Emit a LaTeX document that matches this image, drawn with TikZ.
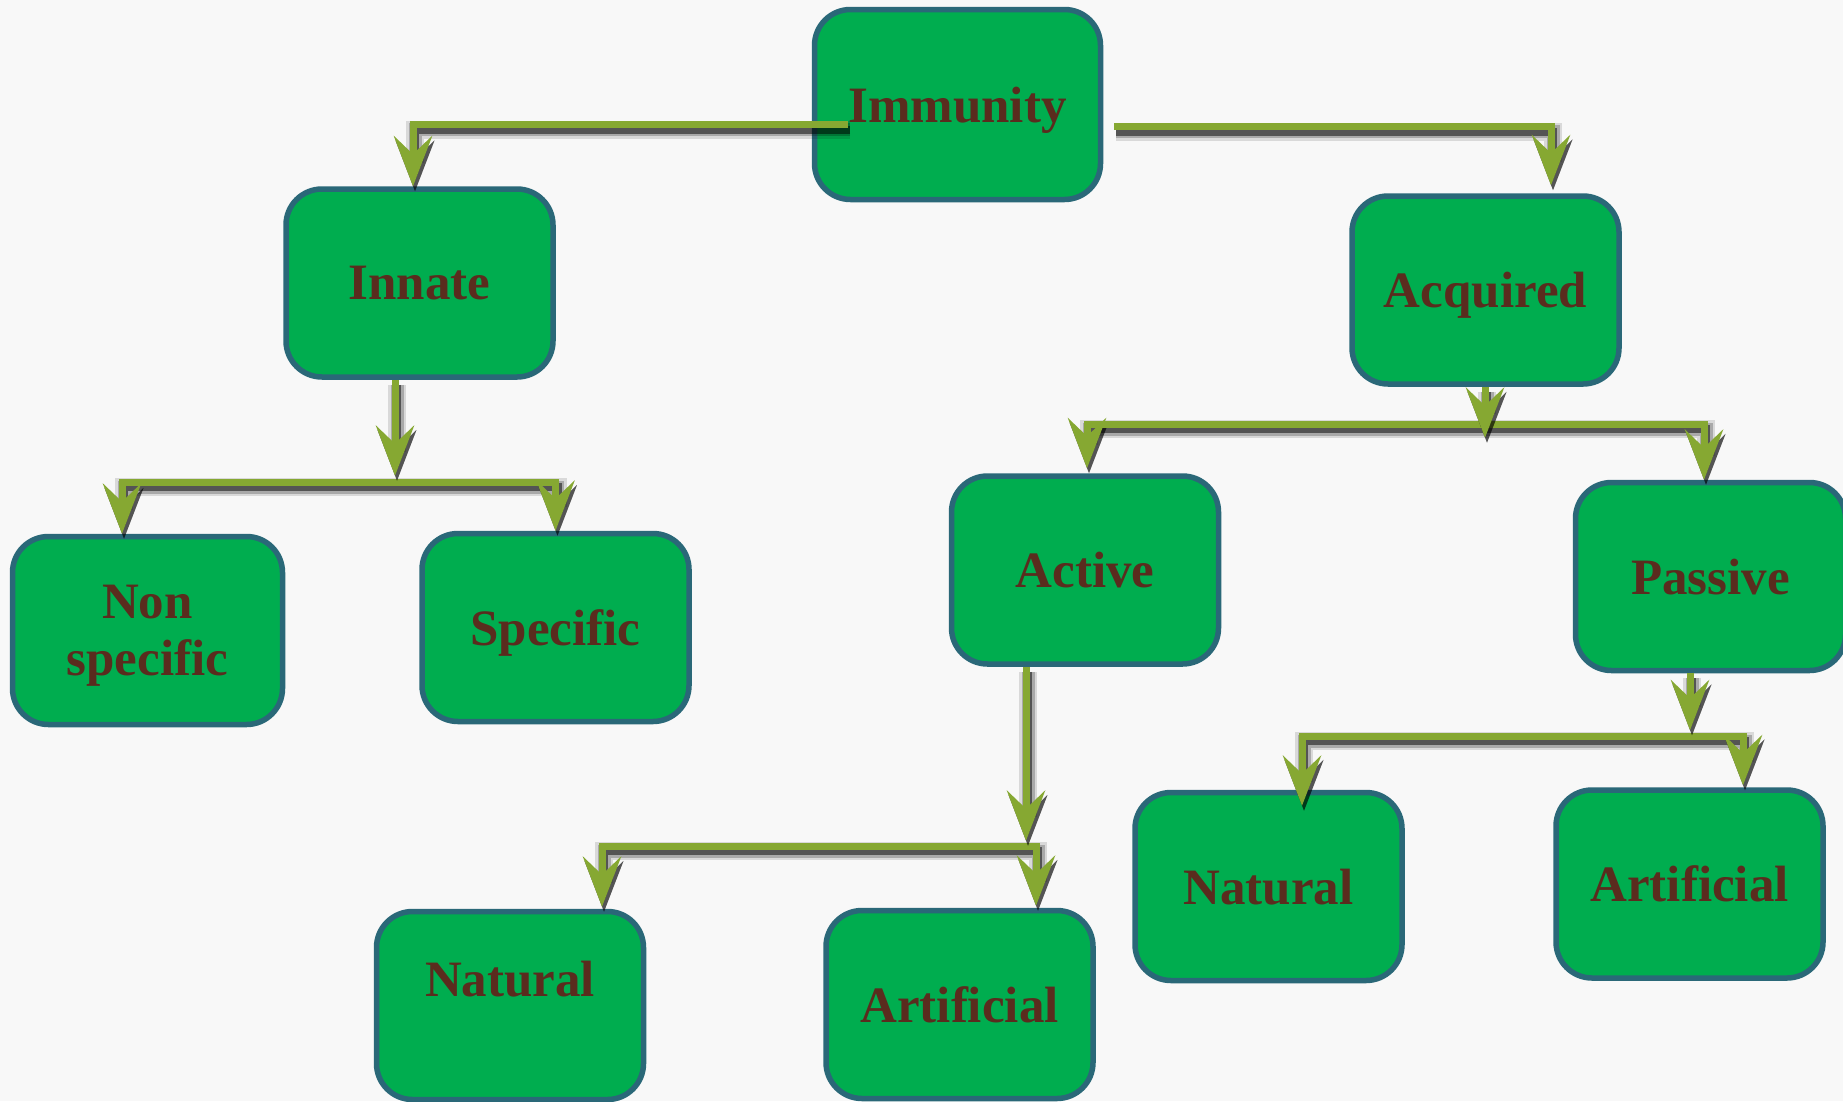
\documentclass[tikz,border=0pt]{standalone}
\usepackage{fontspec}
\setmainfont{Liberation Serif}
\usetikzlibrary{arrows.meta,calc}
\definecolor{bg}{RGB}{248,248,248}
\definecolor{boxgreen}{RGB}{0,173,79}
\definecolor{boxedge}{RGB}{42,104,120}
\definecolor{txt}{RGB}{90,44,30}
\definecolor{arrowgreen}{RGB}{134,168,50}
\begin{document}
\begin{tikzpicture}[x=1pt,y=-1pt,
  box/.style={draw=boxedge, line width=5.5pt, fill=boxgreen, rounded corners=36pt,
    minimum width=267pt, minimum height=188pt, inner sep=0pt, align=center,
    text depth=-3pt,
    text=txt, font=\fontsize{51}{57}\selectfont\bfseries},
  lbl/.style={text=txt, inner sep=0pt, font=\fontsize{51}{57}\selectfont\bfseries},
  shad/.style={draw=black, opacity=#1, transform canvas={shift={(2pt,-5pt)}}},
  conn/.style={draw=arrowgreen, line width=7pt, line join=miter,
    -{Stealth[length=50pt,width=38pt,inset=18pt]},
    preaction={shad=0.12, line width=18pt},
    preaction={shad=0.22, line width=13pt},
    preaction={shad=0.50, line width=8pt}}
]
\useasboundingbox (0,0) rectangle (1843,1101);
\clip (0,0) rectangle (1843,1101);
\fill[bg] (0,0) rectangle (1843,1101);

% boxes
\node[box, minimum width=286pt, minimum height=190pt] (imm) at (957.5,104.5) {Immunity};
\node[box] (innate) at (419.5,283) {Innate};
\node[box] (acq) at (1485.5,290) {Acquired};
\node[box, minimum width=270pt, text depth=-7pt] (nonspec) at (147.5,630.5) {Non\\specific};
\node[box] (spec) at (555.5,627.5) {Specific};
\node[box] (active) at (1085,570) {Active};
\node[box, minimum width=270pt] (passive) at (1710.5,576.5) {Passive};
\node[box] (natL) at (510,1005.5) {};
\node[lbl] (natLt) at (510,979) {Natural};
\node[box] (artM) at (959.5,1004.5) {Artificial};
\node[box] (natR) at (1268.5,886.5) {Natural};
\node[box] (artR) at (1689.5,884) {Artificial};

% junctions
\coordinate (j1) at (395,482);
\coordinate (j2) at (1485,424);
\coordinate (j3) at (1026,846);
\coordinate (j4) at (1690,736);

% connectors from Immunity
\draw[conn] ([xshift=-109.5pt,yshift=-20pt]imm.center) -| ([xshift=-6.5pt]innate.north);
\draw[conn] ([xshift=11pt,yshift=-22pt]imm.east) -| ([xshift=65.5pt,yshift=8pt]acq.north);

% bars
\draw[conn] (j1) -| ([xshift=-25.5pt]nonspec.north);
\draw[conn] (j1) -| (spec.north);
\draw[conn] (j2) -| ([xshift=2pt,yshift=5pt]active.north);
\draw[conn] (j2) -| ([xshift=-6.5pt]passive.north);
\draw[conn] (j3) -| ([xshift=92pt,yshift=2pt]natL.north);
\draw[conn] (j3) -| ([xshift=76.5pt,yshift=2pt]artM.north);
\draw[conn] (j4) -| ([xshift=33.5pt,yshift=-16pt]natR.north);
\draw[conn] (j4) -| ([xshift=53.5pt,yshift=2pt]artR.north);

% down arrows
\draw[conn] ([xshift=-24.5pt]innate.south) -- ++(0,96);
\draw[conn] ([xshift=-0.5pt]acq.south) -- ++(0,51);
\draw[conn] ([xshift=-59pt]active.south) -- ++(0,174);
\draw[conn] ([xshift=-20.5pt]passive.south) -- ++(0,57);
\end{tikzpicture}
\end{document}
